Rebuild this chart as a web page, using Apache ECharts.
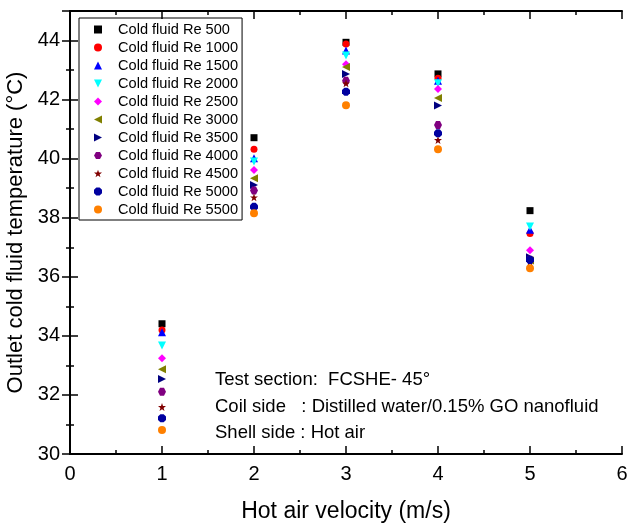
<!DOCTYPE html>
<html><head><meta charset="utf-8">
<script src="https://cdn.jsdelivr.net/npm/echarts@6/dist/echarts.min.js"></script>
<style>html,body{margin:0;padding:0;background:#fff}#c{width:627px;height:524px}</style>
</head><body><div id="c"></div>
<script>
const velocities = [1, 2, 3, 4, 5];
const seriesNames = ['Cold fluid Re 500','Cold fluid Re 1000','Cold fluid Re 1500','Cold fluid Re 2000','Cold fluid Re 2500','Cold fluid Re 3000','Cold fluid Re 3500','Cold fluid Re 4000','Cold fluid Re 4500','Cold fluid Re 5000','Cold fluid Re 5500'];
const re500  = [34.41, 40.71, 43.94, 42.87, 38.24];
const re1000 = [34.20, 40.32, 43.88, 42.72, 37.47];
const re1500 = [34.12, 40.01, 43.66, 42.64, 37.59];
const re2000 = [33.67, 39.90, 43.49, 42.55, 37.70];
const re2500 = [33.24, 39.62, 43.20, 42.36, 36.90];
const re3000 = [32.87, 39.34, 43.10, 42.05, 36.55];
const re3500 = [32.54, 39.11, 42.87, 41.80, 36.66];
const re4000 = [32.11, 38.92, 42.64, 41.14, 36.58];
const re4500 = [31.59, 38.69, 42.55, 40.63, 36.51];
const re5000 = [31.21, 38.37, 42.27, 40.86, 36.57];
const re5500 = [30.81, 38.15, 41.81, 40.32, 36.29];
const allSeries = [re500, re1000, re1500, re2000, re2500, re3000, re3500, re4000, re4500, re5000, re5500];
const annotations = ['Test section:  FCSHE- 45°', 'Coil side   : Distilled water/0.15% GO nanofluid', 'Shell side : Hot air'];

const colors = ['#000000','#ff0000','#0000ff','#00ffff','#ff00ff','#808000','#000080','#800080','#800000','#0000a0','#ff8000'];
const symbols = ['rect','circle','triangle','path://M-1,-1 L1,-1 L0,1 Z','diamond','path://M1,-1 L1,1 L-1,0 Z','path://M-1,-1 L-1,1 L1,0 Z',
  'path://M-0.5,-0.87 L0.5,-0.87 L1,0 L0.5,0.87 L-0.5,0.87 L-1,0 Z',
  'path://M0,-1 L0.24,-0.31 L0.95,-0.31 L0.38,0.12 L0.59,0.81 L0,0.38 L-0.59,0.81 L-0.38,0.12 L-0.95,-0.31 L-0.24,-0.31 Z',
  'path://M-0.41,-1 L0.41,-1 L1,-0.41 L1,0.41 L0.41,1 L-0.41,1 L-1,0.41 L-1,-0.41 Z','circle'];
const sizes = [7,7,8,8,8,8,8,8,8,8,8];

const font = 'Liberation Sans, Arial, sans-serif';
const chart = echarts.init(document.getElementById('c'));
const axisLineStyle = {color:'#000', width:2};
const tickStyle = {color:'#000', width:1.5};
chart.setOption({
  animation:false,
  grid:{left:70, right:5, top:11, bottom:70, containLabel:false, outerBoundsMode:'none'},
  legend:{
    orient:'vertical', left:79, top:18, itemWidth:8, itemHeight:8, itemGap:3,
    padding:[4,4,3,15], borderColor:'#000', borderWidth:1,
    textStyle:{fontFamily:font, fontSize:14.6, color:'#000', padding:[0,0,0,11]},
    data: seriesNames.map((n,i)=>({name:n, icon:symbols[i], itemStyle:{opacity:1}}))
  },
  xAxis:[{
    type:'value', min:0, max:6, interval:1,
    name:'Hot air velocity (m/s)', nameLocation:'middle', nameGap:46,
    nameTextStyle:{fontFamily:font, fontSize:23, color:'#000'},
    axisLine:{lineStyle:axisLineStyle}, axisTick:{inside:true, length:8, lineStyle:tickStyle},
    minorTick:{show:true, splitNumber:2, length:4, lineStyle:tickStyle},
    axisLabel:{fontFamily:font, fontSize:20, color:'#000', margin:10},
    splitLine:{show:false}
  },{
    type:'value', min:0, max:6, interval:1, position:'top',
    axisLine:{lineStyle:axisLineStyle}, axisTick:{inside:true, length:8, lineStyle:tickStyle},
    minorTick:{show:true, splitNumber:2, length:4, lineStyle:tickStyle},
    axisLabel:{show:false}, splitLine:{show:false}
  }],
  yAxis:[{
    type:'value', min:30, max:45, interval:2,
    name:'Outlet cold fluid temperature (°C)', nameLocation:'middle', nameGap:40,
    nameTextStyle:{fontFamily:font, fontSize:22, color:'#000'},
    axisLine:{lineStyle:axisLineStyle}, axisTick:{inside:true, length:8, lineStyle:tickStyle},
    minorTick:{show:true, splitNumber:2, length:4, lineStyle:tickStyle},
    axisLabel:{fontFamily:font, fontSize:20, color:'#000', margin:10, showMaxLabel:false,
      formatter:v=> (v % 2 === 0 ? String(v) : '')},
    splitLine:{show:false}
  },{
    type:'value', min:30, max:45, interval:2, position:'right',
    axisLine:{lineStyle:axisLineStyle}, axisTick:{inside:true, length:8, lineStyle:tickStyle},
    minorTick:{show:true, splitNumber:2, length:4, lineStyle:tickStyle},
    axisLabel:{show:false}, splitLine:{show:false}
  }],
  graphic: annotations.map((t,i)=>({
    type:'text', x:215, y:[380, 407, 433][i],
    style:{text:t, fontFamily:font, fontSize:18.5, fill:'#000', verticalAlign:'middle'}
  })),
  series: allSeries.map((vals,i)=>({
    type:'scatter', name:seriesNames[i], symbol:symbols[i], symbolSize:sizes[i],
    itemStyle:{color:colors[i], opacity:1},
    data: velocities.map((x,j)=>[x, vals[j]])
  }))
});
</script></body></html>
